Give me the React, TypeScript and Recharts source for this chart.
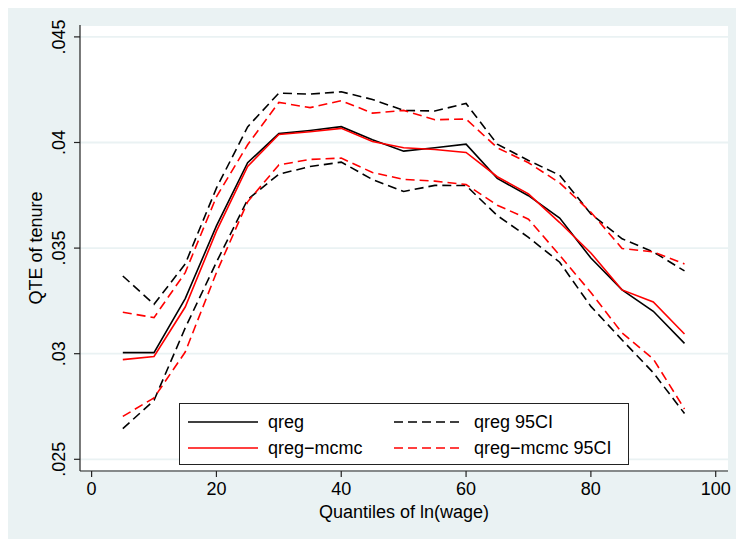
import React from 'react';
import { LineChart, Line, XAxis, YAxis, CartesianGrid, Legend } from 'recharts';

const quantiles = [5, 10, 15, 20, 25, 30, 35, 40, 45, 50, 55, 60, 65, 70, 75, 80, 85, 90, 95];

const qreg = [0.03005, 0.03005, 0.03261, 0.03605, 0.03904, 0.04042, 0.04057, 0.04075, 0.04013, 0.03959,
  0.03975, 0.03992, 0.0383, 0.03748, 0.03642, 0.03453, 0.03302, 0.03201, 0.03049];
const qregUpper = [0.03368, 0.03234, 0.03425, 0.03784, 0.04074, 0.04234, 0.04229, 0.0424, 0.04204, 0.04152,
  0.04149, 0.04185, 0.03992, 0.03915, 0.03845, 0.03662, 0.03544, 0.03482, 0.03392];
const qregLower = [0.02645, 0.02779, 0.03122, 0.03433, 0.0373, 0.0385, 0.03886, 0.03907, 0.03825, 0.03768,
  0.03797, 0.03796, 0.03654, 0.03551, 0.03433, 0.03224, 0.03065, 0.0291, 0.02717];

const mcmc = [0.02972, 0.02987, 0.03221, 0.0358, 0.03887, 0.04038, 0.04051, 0.04067, 0.04005, 0.03975,
  0.03967, 0.03953, 0.03838, 0.03757, 0.03621, 0.03477, 0.03302, 0.03245, 0.03093];
const mcmcUpper = [0.03196, 0.03171, 0.03384, 0.03743, 0.03989, 0.0419, 0.04165, 0.04198, 0.04139, 0.04152,
  0.04108, 0.04111, 0.03975, 0.03904, 0.03809, 0.0367, 0.03498, 0.03482, 0.03425];
const mcmcLower = [0.02703, 0.02791, 0.03008, 0.03384, 0.03719, 0.03894, 0.0392, 0.03926, 0.03858, 0.03825,
  0.03817, 0.03801, 0.03703, 0.03637, 0.03466, 0.0329, 0.03098, 0.02975, 0.02738];

const xTicks = [0, 20, 40, 60, 80, 100];
const yTicks = [0.025, 0.03, 0.035, 0.04, 0.045];

const chartData = quantiles.map((q, i) => ({
  q,
  qreg: qreg[i],
  qregUpper: qregUpper[i],
  qregLower: qregLower[i],
  mcmc: mcmc[i],
  mcmcUpper: mcmcUpper[i],
  mcmcLower: mcmcLower[i],
}));

const FONT = '"Liberation Sans", Arial, Helvetica, sans-serif';
const BG = '#EAF2F3';
const DASH = '9 5';

// Stata style: ".045" instead of "0.045"
const fmtY = (v: number) => String(Number(v.toFixed(3))).replace(/^0/, '');

const YTick = ({ x, y, payload }: any) => (
  <text
    transform={`translate(${x},${y}) rotate(-90)`}
    textAnchor="middle"
    fontSize={18}
    fontFamily={FONT}
    fill="#000"
  >
    {fmtY(payload.value)}
  </text>
);

// legend cell positions (relative to the legend box)
const legendCells: Record<string, { lx: number; ty: number }> = {
  qreg: { lx: 9, ty: 19 },
  mcmc: { lx: 9, ty: 45 },
  qregUpper: { lx: 215, ty: 19 },
  mcmcUpper: { lx: 215, ty: 45 },
};

const StataLegend = ({ payload }: any) => (
  <svg width={450} height={62} style={{ display: 'block' }}>
    <rect x={0.5} y={0.5} width={449} height={61} fill="#fff" stroke="#222" strokeWidth={1} />
    {(payload || []).map((entry: any) => {
      const cell = legendCells[entry.dataKey];
      if (!cell) return null;
      return (
        <g key={entry.dataKey}>
          <line
            x1={cell.lx}
            x2={cell.lx + 70}
            y1={cell.ty}
            y2={cell.ty}
            stroke={entry.color}
            strokeWidth={1.6}
            strokeDasharray={entry.payload?.strokeDasharray}
          />
          <text
            x={cell.lx + 80}
            y={cell.ty + 6}
            fontSize={18}
            fontFamily={FONT}
            fill="#000"
          >
            {entry.value}
          </text>
        </g>
      );
    })}
  </svg>
);

export default function App() {
  return (
    <div style={{ margin: '-2px 0 0 -1px', width: 736, height: 533, background: BG }}>
      <LineChart
        width={736}
        height={533}
        data={chartData}
        margin={{ top: 19, right: 15, bottom: 0, left: 0 }}
      >
        <CartesianGrid
          vertical={false}
          stroke={BG}
          strokeWidth={1.8}
          fill="#fff"
          fillOpacity={1}
        />
        <XAxis
          dataKey="q"
          type="number"
          domain={[-1.86, 101.97]}
          ticks={xTicks}
          allowDataOverflow
          height={68}
          tickSize={6}
          tickMargin={5}
          axisLine={{ stroke: '#222', strokeWidth: 1.2 }}
          tickLine={{ stroke: '#222', strokeWidth: 1.2 }}
          tick={{ fill: '#000', fontSize: 18, fontFamily: FONT }}
          label={{
            content: () => (
              <text x={397} y={512} textAnchor="middle" fontSize={18} fontFamily={FONT} fill="#000">
                Quantiles of ln(wage)
              </text>
            ),
          }}
        />
        <YAxis
          type="number"
          domain={[0.024446, 0.045563]}
          ticks={yTicks}
          allowDataOverflow
          width={73}
          tickSize={6}
          tickMargin={9}
          axisLine={{ stroke: '#222', strokeWidth: 1.2 }}
          tickLine={{ stroke: '#222', strokeWidth: 1.2 }}
          tick={<YTick />}
          label={{
            content: () => (
              <text
                transform="translate(35,242) rotate(-90)"
                textAnchor="middle"
                fontSize={18}
                fontFamily={FONT}
                fill="#000"
              >
                QTE of tenure
              </text>
            ),
          }}
        />
        <Legend
          layout="vertical"
          align="center"
          verticalAlign="middle"
          wrapperStyle={{ left: 172, top: 397, width: 450, height: 62 }}
          content={<StataLegend />}
        />
        <Line dataKey="qreg" name="qreg" stroke="#000" strokeWidth={1.6} dot={false} type="linear" isAnimationActive={false} />
        <Line dataKey="mcmc" name="qreg−mcmc" stroke="#ff0000" strokeWidth={1.6} dot={false} type="linear" isAnimationActive={false} />
        <Line dataKey="qregUpper" name="qreg 95CI" stroke="#000" strokeWidth={1.6} strokeDasharray={DASH} dot={false} type="linear" isAnimationActive={false} />
        <Line dataKey="qregLower" name="qreg 95CI (lower)" legendType="none" stroke="#000" strokeWidth={1.6} strokeDasharray={DASH} dot={false} type="linear" isAnimationActive={false} />
        <Line dataKey="mcmcUpper" name="qreg−mcmc 95CI" stroke="#ff0000" strokeWidth={1.6} strokeDasharray={DASH} dot={false} type="linear" isAnimationActive={false} />
        <Line dataKey="mcmcLower" name="qreg−mcmc 95CI (lower)" legendType="none" stroke="#ff0000" strokeWidth={1.6} strokeDasharray={DASH} dot={false} type="linear" isAnimationActive={false} />
      </LineChart>
    </div>
  );
}
